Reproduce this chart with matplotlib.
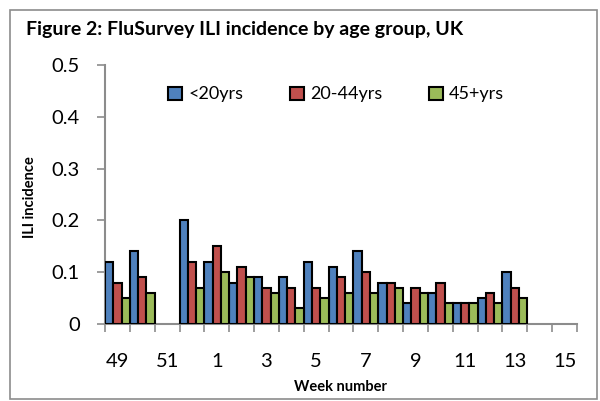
import numpy as np
from matplotlib import pyplot as plt
from matplotlib.patches import Rectangle

plt.rcParams['font.family'] = ['Lato', 'DejaVu Sans']

weeks = ['49', '50', '51', '52', '1', '2', '3', '4', '5', '6', '7', '8', '9',
         '10', '11', '12', '13', '14', '15']
nan = np.nan
under20 = [0.12, 0.14, nan, 0.20, 0.12, 0.08, 0.09, 0.09, 0.12, 0.11, 0.14, 0.08,
           0.04, 0.06, 0.04, 0.05, 0.10, nan, nan]
age20_44 = [0.08, 0.09, nan, 0.12, 0.15, 0.11, 0.07, 0.07, 0.07, 0.09, 0.10, 0.08,
            0.07, 0.08, 0.04, 0.06, 0.07, nan, nan]
age45 = [0.05, 0.06, nan, 0.07, 0.10, 0.09, 0.06, 0.03, 0.05, 0.06, 0.06, 0.07,
         0.06, 0.04, 0.04, 0.04, 0.05, nan, nan]
series = [('<20yrs', under20, '#4F81BD'),
          ('20-44yrs', age20_44, '#C0504D'),
          ('45+yrs', age45, '#9BBB59')]

fig = plt.figure(figsize=(6, 4.01), dpi=100)
ax = fig.add_axes([105 / 600, 1 - 324 / 401, 472 / 600, 259 / 401])

x = np.arange(len(weeks))
w = 1 / 3
for k, (name, vals, col) in enumerate(series):
    vals = np.array(vals, dtype=float)
    ok = ~np.isnan(vals)
    ax.bar(x[ok] + (k - 1) * w, vals[ok], width=w, color=col,
           edgecolor='black', linewidth=1.5, label=name, zorder=3)

ax.set_xlim(-0.5, len(weeks) - 0.5)
ax.set_ylim(0, 0.5)
ax.set_yticks([0, 0.1, 0.2, 0.3, 0.4, 0.5])
ax.set_yticklabels(['0', '0.1', '0.2', '0.3', '0.4', '0.5'])
ax.set_xticks(x[::2])
ax.set_xticklabels(weeks[::2])
ax.set_xticks(np.arange(len(weeks) + 1) - 0.5, minor=True)

ax.tick_params(axis='y', direction='out', length=6, width=1.2, color='#8c8c8c',
               labelsize=14.5, pad=12)
ax.tick_params(axis='x', which='major', length=0, labelsize=14.5, pad=21)
ax.tick_params(axis='x', which='minor', direction='out', length=6, width=1.2,
               color='#8c8c8c')

for s in ['top', 'right']:
    ax.spines[s].set_visible(False)
for s in ['left', 'bottom']:
    ax.spines[s].set_color('#8c8c8c')
    ax.spines[s].set_linewidth(1.5)

ax.legend(loc='upper center', bbox_to_anchor=(0.49, 0.98), ncol=3, frameon=False,
          fontsize=13, handlelength=0.75, handleheight=0.75, handletextpad=0.35,
          columnspacing=2.6)

fig.text(26 / 600, 1 - 30 / 401, 'Figure 2: FluSurvey ILI incidence by age group, UK',
         fontsize=14, fontweight='bold', va='center', ha='left')
fig.text(30 / 600, 1 - 197 / 401, 'ILI incidence', fontsize=10.5, fontweight='bold',
         rotation=90, va='center', ha='center')
fig.text(341 / 600, 1 - 387 / 401, 'Week number', fontsize=10.5, fontweight='bold',
         va='center', ha='center')

fig.patches.append(Rectangle((10 / 600, 1 - 399 / 401), 587 / 600, 389 / 401,
                             transform=fig.transFigure, fill=False,
                             edgecolor='#8c8c8c', linewidth=1.2))

plt.savefig('out.png', dpi=100)
